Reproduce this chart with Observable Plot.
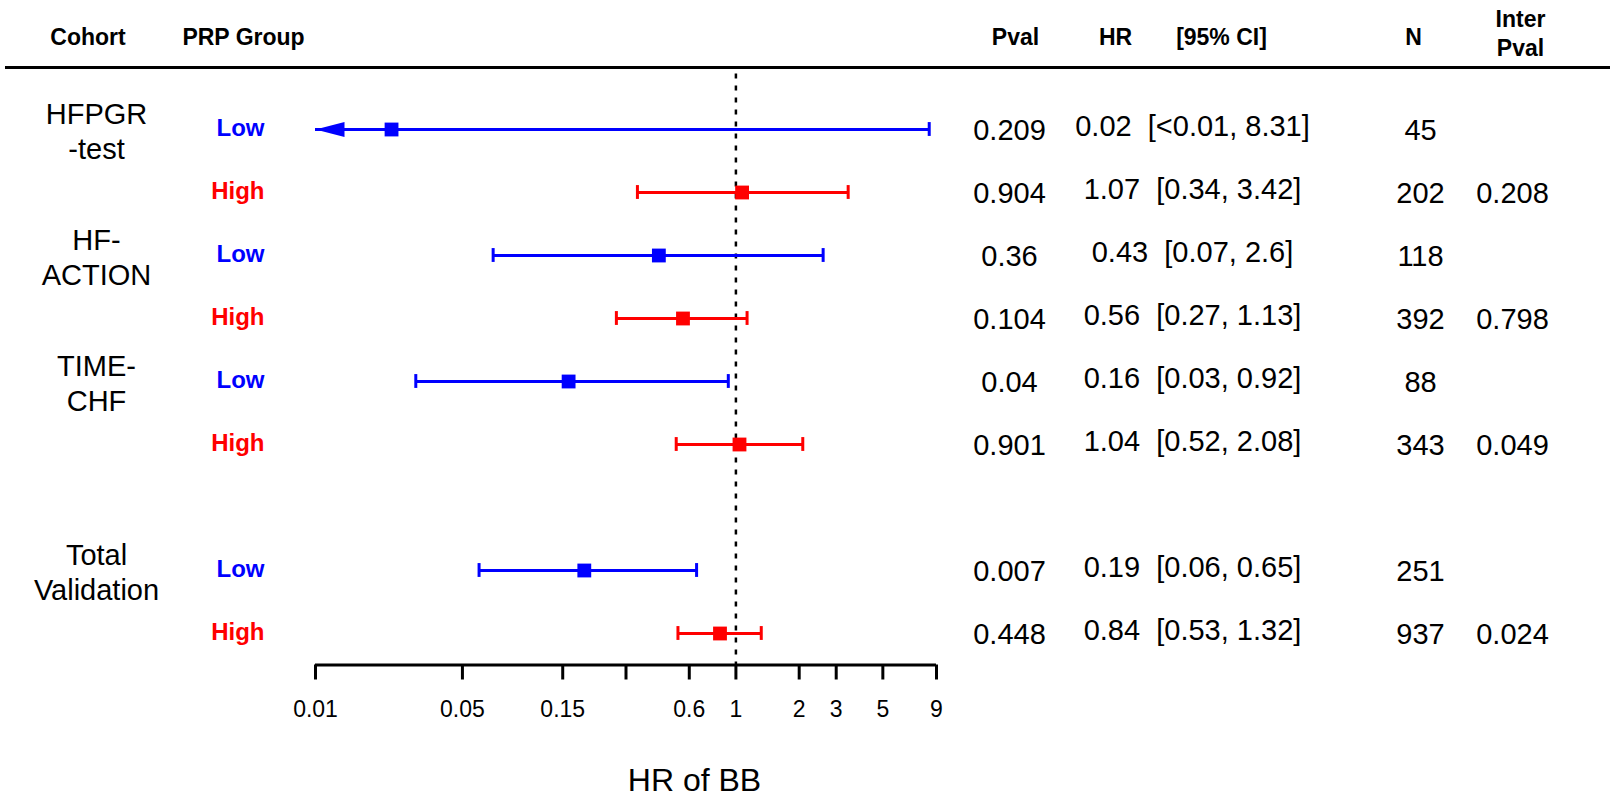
<!DOCTYPE html>
<html>
<head>
<meta charset="utf-8">
<script src="https://cdn.jsdelivr.net/npm/d3@7"></script>
<script src="https://cdn.jsdelivr.net/npm/@observablehq/plot@0.6"></script>
<style>
  html, body { margin: 0; padding: 0; background: #fff; }
  #chart svg { display: block; }
</style>
</head>
<body>
<div id="chart"></div>
<script>
// ---------- data ----------
const cohortLabels = ["HFPGR\n-test", "HF-\nACTION", "TIME-\nCHF", "Total\nValidation"];
const cohortRow    = [0, 2, 4, 7];
const rowIndex  = [0, 1, 2, 3, 4, 5, 7, 8];
const rowGroup  = ["Low", "High", "Low", "High", "Low", "High", "Low", "High"];
const hr        = [0.023, 1.07, 0.43, 0.56, 0.16, 1.04, 0.19, 0.84];
const ciLow     = [0.004, 0.34, 0.07, 0.27, 0.03, 0.52, 0.06, 0.53];
const ciHigh    = [8.31, 3.42, 2.6, 1.13, 0.92, 2.08, 0.65, 1.32];
const pval      = [0.209, 0.904, 0.36, 0.104, 0.04, 0.901, 0.007, 0.448];
const nObs      = [45, 202, 118, 392, 88, 343, 251, 937];
const interPval = [null, 0.208, null, 0.798, null, 0.049, null, 0.024];
const tickValues = [0.01, 0.05, 0.15, 0.3, 0.6, 1, 2, 3, 5, 9];
const tickLabels = ["0.01", "0.05", "0.15", "", "0.6", "1", "2", "3", "5", "9"];
const headerLabels = ["Cohort", "PRP Group", "Pval", "HR", "[95% CI]", "N", "Inter\nPval"];
const xMin = 0.01, xMax = 9;

// ---------- layout ----------
const W = 1610, H = 798, ML = 5;
const colX = {cohort: 96, group: 264, pval: 1009, hrci: 1192, n: 1420, inter: 1512};
const headerX = [87.5, 243, 1015, 1115, 1221, 1413, 1520];
const groupColor = {Low: "#0000FF", High: "#FF0000"};
const FONT = "'Liberation Sans', Arial, Helvetica, sans-serif";

const fmt2 = v => v < 0.01 ? "<0.01" : String(+v.toFixed(2));
const fmt3 = v => String(+v.toFixed(3));

const rows = rowIndex.map((r, i) => ({
  row: r, group: rowGroup[i], hr: hr[i], lo: ciLow[i], hi: ciHigh[i],
  loDraw: Math.max(ciLow[i], xMin), clipped: ciLow[i] < xMin,
  pval: fmt3(pval[i]),
  hrci: fmt2(hr[i]) + "\u00a0\u00a0[" + fmt2(ciLow[i]) + ", " + fmt2(ciHigh[i]) + "]",
  n: String(nObs[i]),
  inter: interPval[i] == null ? "" : fmt3(interPval[i])
}));
const cohorts = cohortLabels.map((c, i) => ({label: c, row: cohortRow[i]}));
const headers = headerLabels.map((h, i) => ({label: h, x: headerX[i], multi: h.includes("\n")}));
const ticks = tickValues.map((t, i) => ({t, label: tickLabels[i]}));

const arrowLeft = {
  draw(ctx) { ctx.moveTo(0, 0); ctx.lineTo(29, -7.5); ctx.lineTo(29, 7.5); ctx.closePath(); }
};

const chart = Plot.plot({
  width: W, height: H,
  marginLeft: ML, marginRight: 0, marginTop: 97.5, marginBottom: 133.5,
  style: {fontFamily: FONT, background: "#fff", color: "#000", overflow: "visible"},
  x: {type: "log", domain: [xMin, xMax], range: [315, 936], axis: null},
  y: {domain: [-0.5, 8.5], reverse: true, axis: null},
  marks: [
    // header
    ...headers.map(h => Plot.text([h], {
      text: "label", y: () => -1.5, frameAnchor: "left", dx: h.x - ML, dy: h.multi ? -2.5 : 1.5,
      textAnchor: "middle", fontSize: 23, fontWeight: "bold", lineHeight: 1.22, fill: "#000"
    })),
    Plot.ruleY([-1], {strokeWidth: 3, stroke: "#000", dy: 1}),
    // reference line
    Plot.ruleX([1], {y1: -0.88, y2: 8.5, stroke: "#000", strokeWidth: 2.5, strokeDasharray: "5,7"}),
    // cohort & group labels
    Plot.text(cohorts, {text: "label", y: "row", frameAnchor: "left", dx: colX.cohort - ML, dy: 1,
      textAnchor: "middle", fontSize: 29, lineHeight: 1.2, fill: "#000"}),
    Plot.text(rows, {text: "group", y: "row", frameAnchor: "left", dx: colX.group - ML, dy: -1,
      textAnchor: "end", fontSize: 24, fontWeight: "bold", fill: d => groupColor[d.group]}),
    // intervals
    Plot.ruleY(rows, {y: "row", x1: "loDraw", x2: "hi", stroke: d => groupColor[d.group], strokeWidth: 3}),
    Plot.ruleX(rows, {x: "hi", y1: d => d.row - 0.11, y2: d => d.row + 0.11, stroke: d => groupColor[d.group], strokeWidth: 3}),
    Plot.ruleX(rows.filter(d => !d.clipped), {x: "lo", y1: d => d.row - 0.11, y2: d => d.row + 0.11, stroke: d => groupColor[d.group], strokeWidth: 3}),
    Plot.dot(rows.filter(d => d.clipped), {x: () => xMin, y: "row", symbol: arrowLeft, r: 8, fill: d => groupColor[d.group], stroke: "none"}),
    Plot.dot(rows, {x: "hr", y: "row", symbol: "square", r: 7.8, fill: d => groupColor[d.group], stroke: "none"}),
    // table columns
    Plot.text(rows, {text: "pval", y: "row", frameAnchor: "left", dx: colX.pval - ML, dy: 1.5, textAnchor: "middle", fontSize: 29, fill: "#000"}),
    Plot.text(rows, {text: "hrci", y: "row", frameAnchor: "left", dx: colX.hrci - ML, dy: -3, textAnchor: "middle", fontSize: 29, fill: "#000"}),
    Plot.text(rows, {text: "n", y: "row", frameAnchor: "left", dx: colX.n - ML, dy: 1.5, textAnchor: "middle", fontSize: 29, fill: "#000"}),
    Plot.text(rows, {text: "inter", y: "row", frameAnchor: "left", dx: colX.inter - ML, dy: 1.5, textAnchor: "middle", fontSize: 29, fill: "#000"}),
    // x axis
    Plot.ruleY([8.5], {x1: xMin, x2: xMax, stroke: "#000", strokeWidth: 3}),
    Plot.ruleX(ticks, {x: "t", y1: 8.5, y2: 8.5 + 15 / 63, stroke: "#000", strokeWidth: 3}),
    Plot.text(ticks, {x: "t", text: "label", y: () => 8.5, dy: 45, fontSize: 23, fill: "#000", textAnchor: "middle"}),
    Plot.text(["HR of BB"], {text: d => d, frameAnchor: "bottom-left", dx: 694 - ML, dy: 126, fontSize: 32, textAnchor: "middle", fill: "#000"})
  ]
});
document.getElementById("chart").appendChild(chart);
</script>
</body>
</html>
